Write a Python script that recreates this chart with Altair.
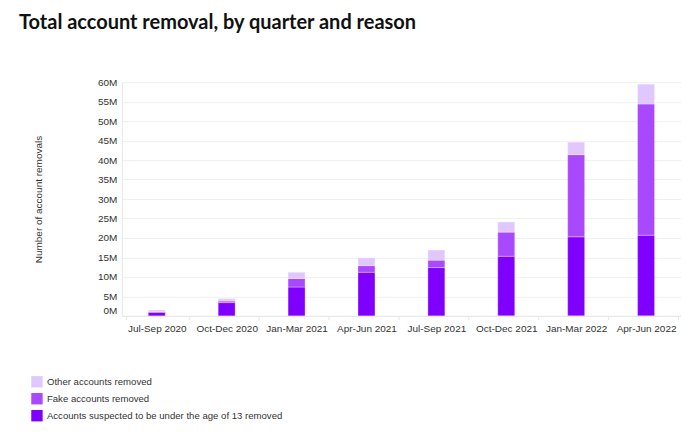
import altair as alt
import pandas as pd

quarters = ["Jul-Sep 2020", "Oct-Dec 2020", "Jan-Mar 2021", "Apr-Jun 2021",
            "Jul-Sep 2021", "Oct-Dec 2021", "Jan-Mar 2022", "Apr-Jun 2022"]
under13 = [0.9, 3.4, 7.4, 11.2, 12.4, 15.3, 20.3, 20.7]
fake = [0.2, 0.4, 2.2, 1.7, 1.9, 6.2, 21.1, 33.7]
other = [0.4, 0.6, 1.6, 2.0, 2.6, 2.6, 3.2, 5.1]

series = ["Other accounts removed", "Fake accounts removed",
          "Accounts suspected to be under the age of 13 removed"]
colors = ["#E0C8FF", "#A849FF", "#7F00FF"]

rows = []
for i, q in enumerate(quarters):
    rows.append({"quarter": q, "reason": series[2], "value": under13[i] * 1e6, "order": 0})
    rows.append({"quarter": q, "reason": series[1], "value": fake[i] * 1e6, "order": 1})
    rows.append({"quarter": q, "reason": series[0], "value": other[i] * 1e6, "order": 2})
df = pd.DataFrame(rows)

chart = alt.Chart(df).mark_bar(size=17, stroke="white", strokeWidth=0.6, strokeOpacity=0.5).encode(
    x=alt.X("quarter:N", sort=quarters, title=None,
            axis=alt.Axis(labelAngle=0, labelFontSize=10, labelColor="#333", labelFont="Liberation Sans",
                          domainColor="#e6e6e6", tickColor="#e6e6e6", tickBand="extent", tickSize=4,
                          labelPadding=4, grid=False)),
    y=alt.Y("value:Q", stack="zero", title="Number of account removals",
            scale=alt.Scale(domain=[0, 60e6], nice=False),
            axis=alt.Axis(labelExpr="datum.value / 1000000 + 'M'",
                          values=[i * 5e6 for i in range(13)], labelOverlap=False,
                          labelFontSize=10, labelColor="#333", labelFont="Liberation Sans",
                          labelBaseline={"condition": {"test": "datum.value == 0", "value": "bottom"}, "value": "middle"},
                          ticks=False, domainColor="#e6e6e6", gridColor="#f0f0f0", labelPadding=5,
                          titleFontSize=10, titleFontWeight="normal", titleColor="#333",
                          titleFont="Liberation Sans", titleX=-78, titleY=117)),
    color=alt.Color("reason:N", sort=series,
                    scale=alt.Scale(domain=series, range=colors),
                    legend=alt.Legend(title=None, orient="none", legendX=-91, legendY=294,
                                      symbolType="square", symbolSize=130, symbolStrokeWidth=0,
                                      labelFontSize=9.6, labelColor="#333", labelFont="Liberation Sans",
                                      labelLimit=400, rowPadding=5, symbolOpacity=1)),
    order=alt.Order("order:Q"),
).properties(
    width=560, height=234,
    title=alt.TitleParams("Total account removal, by quarter and reason", anchor="start", frame="group",
                          dx=-103, dy=-40, fontSize=20, font="Lato", fontWeight="bold", color="#111"),
    autosize=alt.AutoSizeParams(type="none"),
    padding={"left": 114, "top": 74, "right": 0, "bottom": 110},
).configure_view(stroke=None)

chart.save("out.html", embed_options={"renderer": "svg", "actions": False})
